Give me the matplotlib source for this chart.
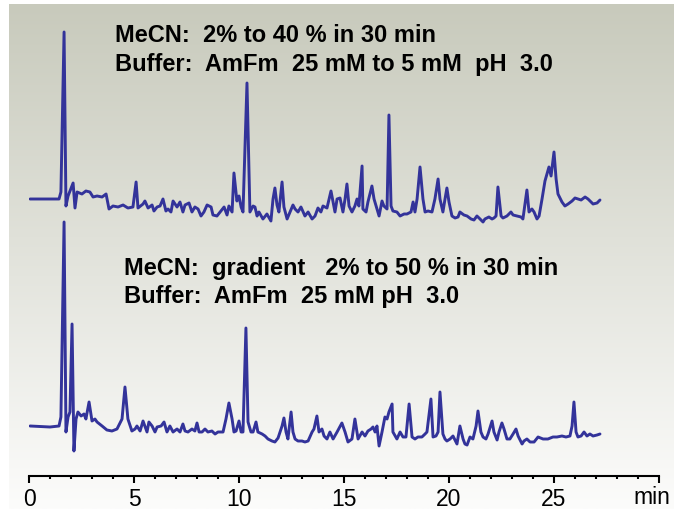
import numpy as np
import matplotlib
matplotlib.use("Agg")
import matplotlib.pyplot as plt
from matplotlib.ticker import MultipleLocator

# ---------------- data (time in min, detector signal in arbitrary units) -------------
top_time = [0.05, 1.43, 1.52, 1.67, 1.76, 1.86, 2.10, 2.19, 2.29, 2.52, 2.71, 2.90, 3.05, 3.24, 3.48, 3.67,
            3.81, 4.00, 4.24, 4.48, 4.71, 4.95, 5.10, 5.19, 5.43, 5.52, 5.67, 5.86, 5.95, 6.10, 6.24, 6.38,
            6.52, 6.62, 6.76, 6.86, 7.05, 7.19, 7.33, 7.43, 7.62, 7.76, 7.90, 8.05, 8.19, 8.33, 8.48, 8.67,
            8.76, 8.95, 9.10, 9.29, 9.43, 9.52, 9.67, 9.76, 9.90, 10.00, 10.10, 10.19, 10.38, 10.52, 10.67,
            10.76, 10.86, 10.95, 11.14, 11.33, 11.52, 11.62, 11.71, 11.81, 11.90, 12.05, 12.14, 12.29, 12.43,
            12.57, 12.67, 12.81, 12.95, 13.14, 13.29, 13.48, 13.62, 13.76, 13.90, 14.00, 14.19, 14.38, 14.57,
            14.67, 14.81, 14.95, 15.05, 15.14, 15.24, 15.38, 15.52, 15.62, 15.71, 15.86, 15.90, 16.05, 16.14,
            16.33, 16.43, 16.57, 16.67, 16.81, 16.90, 17.05, 17.14, 17.24, 17.33, 17.52, 17.67, 17.86, 18.00,
            18.19, 18.29, 18.38, 18.48, 18.62, 18.76, 18.86, 19.00, 19.19, 19.33, 19.48, 19.57, 19.71, 19.81,
            19.90, 20.00, 20.14, 20.29, 20.43, 20.52, 20.71, 20.86, 21.05, 21.19, 21.33, 21.43, 21.62, 21.71,
            21.90, 22.05, 22.14, 22.24, 22.33, 22.48, 22.57, 22.76, 22.95, 23.05, 23.24, 23.43, 23.52, 23.71,
            23.81, 23.95, 24.05, 24.19, 24.29, 24.43, 24.57, 24.76, 24.86, 25.00, 25.10, 25.19, 25.38, 25.52,
            25.67, 25.86, 26.00, 26.14, 26.29, 26.48, 26.62, 26.86, 27.05, 27.19]
top_signal = [0, 0, 7, 167, -7, 3, 16, -9, 7, 5, 8, 7, 2, 3, 2, 5,
              -10, -7, -8, -6, -9, -8, 17, -9, -5, -2, -9, -6, -12, -8, -7, 0,
              -12, -10, -13, -2, -8, -3, -13, -6, -4, -13, -8, -10, -17, -13, -6, -8,
              -16, -17, -13, -8, -16, -7, -13, 26, -2, 3, -8, -13, 116, -13, -7,
              -8, -17, -13, -20, -15, -22, 0, 11, -6, -13, 17, -8, -20, -13,
              -6, -10, -13, -8, -17, -13, -20, -17, -9, -13, -7, -9, 8, -13,
              0, 1, -13, 0, 15, -7, -13, -7, 0, -7, 33, -10, -13, -3,
              13, 0, -10, -17, -2, -7, -10, 84, -7, -12, -13, -17, -15, -15,
              -13, -3, -13, 0, 32, 0, -13, -12, -13, 0, 20, 0, -13, 0,
              11, -3, -17, -19, -18, -13, -16, -17, -20, -21, -17, -19, -23, -20,
              -18, -20, -19, -17, 12, -17, -19, -17, -13, -16, -17, -18, -20, 9,
              -13, -10, -13, -20, -17, 0, 18, 32, 23, 47, 20, 5, -3, -7,
              -5, -2, 1, 0, -1, 2, 0, -5, -4, -1]

bottom_time = [0.05, 1.00, 1.43, 1.52, 1.67, 1.76, 1.86, 1.95, 2.05, 2.14, 2.24, 2.33, 2.48, 2.62, 2.71, 2.86,
               3.00, 3.14, 3.24, 3.48, 3.71, 3.95, 4.19, 4.43, 4.57, 4.71, 4.90, 5.05, 5.14, 5.29, 5.43, 5.62,
               5.71, 5.86, 6.00, 6.10, 6.29, 6.43, 6.57, 6.71, 6.86, 7.05, 7.19, 7.33, 7.43, 7.57, 7.76, 7.90,
               8.00, 8.10, 8.24, 8.38, 8.52, 8.71, 8.86, 9.00, 9.24, 9.38, 9.52, 9.67, 9.76, 9.86, 10.00, 10.10,
               10.19, 10.33, 10.43, 10.57, 10.67, 10.81, 10.90, 11.10, 11.24, 11.38, 11.57, 11.71, 11.86, 12.05,
               12.14, 12.24, 12.33, 12.48, 12.57, 12.67, 12.81, 13.00, 13.14, 13.29, 13.48, 13.57, 13.71, 13.81,
               13.95, 14.05, 14.19, 14.33, 14.48, 14.67, 14.90, 15.05, 15.19, 15.38, 15.52, 15.67, 15.86, 16.00,
               16.14, 16.29, 16.38, 16.48, 16.57, 16.67, 16.81, 16.95, 17.05, 17.14, 17.29, 17.33, 17.52, 17.67,
               17.81, 17.95, 18.10, 18.24, 18.38, 18.52, 18.71, 18.86, 18.95, 19.14, 19.24, 19.38, 19.48, 19.57,
               19.71, 19.81, 19.90, 20.05, 20.19, 20.38, 20.52, 20.67, 20.76, 20.86, 21.00, 21.14, 21.29, 21.38,
               21.52, 21.62, 21.76, 21.86, 22.05, 22.14, 22.29, 22.38, 22.52, 22.62, 22.76, 22.90, 23.05, 23.19,
               23.29, 23.48, 23.57, 23.71, 23.86, 24.05, 24.24, 24.48, 24.71, 24.95, 25.14, 25.38, 25.57, 25.76,
               25.86, 25.95, 26.05, 26.14, 26.29, 26.43, 26.57, 26.71, 26.86, 27.05, 27.19]
bottom_signal = [0, -1, 0, 9, 204, -6, 9, 14, 102, -25, 7, 14, 10, 12, 7, 24,
                 5, 7, 4, 0, -4, -5, -3, 7, 39, 7, -5, -3, 0, -5, 5, -6,
                 4, 0, -6, -1, 0, 4, -6, 0, -6, -3, -6, 2, -5, -6, -3, -5,
                 3, -6, -6, -3, -6, -5, -8, -6, -6, 7, 23, 7, -6, -5, 5, -6,
                 -6, 98, 4, -6, -6, 4, -6, -8, -10, -13, -15, -16, -12, 0,
                 8, -6, -13, 14, -6, -13, -15, -15, -16, -15, -6, -3, 10, -6,
                 -3, -10, -13, -6, -13, -6, 3, -6, -16, -13, 7, -13, -6, -10,
                 -5, -3, -1, -6, 0, -20, -6, 9, 7, 14, 22, -6, -13, -6,
                 -11, -11, 22, -11, -13, -11, -11, -8, -6, 27, -11, -10, -6, 34,
                 -8, -13, -15, -13, -10, -18, 0, -13, -18, -19, -11, -13, 0, 15,
                 -6, -11, -13, -8, 5, -6, -14, -6, 3, -3, -13, -13, -8, -3,
                 -10, -18, -15, -13, -16, -16, -11, -13, -13, -11, -11, -10, -11, -10,
                 0, 24, -6, -11, -10, -6, -10, -8, -10, -9, -8]

trace_offsets = [277, 50]

tick_values = [0, 5, 10, 15, 20, 25, 30]
tick_labels = ["0", "5", "10", "15", "20", "25", "min"]

top_lines = ["MeCN:  2% to 40 % in 30 min", "Buffer:  AmFm  25 mM to 5 mM  pH  3.0"]
bottom_lines = ["MeCN:  gradient   2% to 50 % in 30 min", "Buffer:  AmFm  25 mM pH  3.0"]

# ---------------- styling -----------------------------------------------------------
W, H = 674, 510
line_color = "#33339a"

fig = plt.figure(figsize=(W / 100, H / 100), dpi=100)
fig.patch.set_facecolor("white")

# gradient background panel
bg = fig.add_axes([9 / W, 0, 1 - 9 / W, 1 - 5 / H], zorder=0)
top_c = np.array([200, 202, 188]) / 255.0
bot_c = np.array([252, 252, 251]) / 255.0
f = np.linspace(0, 1, 256)[:, None]
grad = top_c[None, :] * (1 - f) + bot_c[None, :] * f
bg.imshow(grad[:, None, :], aspect="auto", extent=[0, 1, 0, 1], origin="upper")
bg.set_axis_off()

ax = fig.add_axes([29 / W, 1 - 477 / H, (659 - 29) / W, (477 - 5) / H], zorder=1)
ax.patch.set_alpha(0)

for t, s, off in [(top_time, top_signal, trace_offsets[0]),
                  (bottom_time, bottom_signal, trace_offsets[1])]:
    ax.plot(t, np.array(s) + off, color=line_color, lw=2.1,
            solid_joinstyle="round", solid_capstyle="round")

ax.set_xlim(0, 30)
ax.set_ylim(0, 472)
for sp in ["top", "left", "right"]:
    ax.spines[sp].set_visible(False)
ax.spines["bottom"].set_linewidth(1.5)
ax.set_yticks([])
ax.set_xticks(tick_values)
ax.set_xticklabels(tick_labels[:-1] + [""], fontfamily="Liberation Sans", fontsize=16.5)
ax.xaxis.set_minor_locator(MultipleLocator(1))
ax.tick_params(axis="x", which="major", length=5, width=1.5, pad=3, direction="out")
ax.tick_params(axis="x", which="minor", length=2.5, width=1.5, direction="out")

# unit label sits at the last tick, nudged left so it stays inside the figure
ax.annotate(tick_labels[-1], xy=(tick_values[-1], 0), xycoords=("data", "axes fraction"),
            xytext=(-5, -14.5), textcoords="offset points", ha="center", va="center",
            fontfamily="Liberation Sans", fontsize=16.5, annotation_clip=False)

def ftext(px, py, s):
    fig.text(px / W, 1 - py / H, s, fontfamily="Liberation Sans", fontweight="bold",
             fontsize=17.0, va="center", ha="left", zorder=3)

ftext(115, 35, top_lines[0])
ftext(115, 64, top_lines[1])
ftext(124, 268, bottom_lines[0])
ftext(124, 297, bottom_lines[1])

fig.savefig("out.png", dpi=100)
